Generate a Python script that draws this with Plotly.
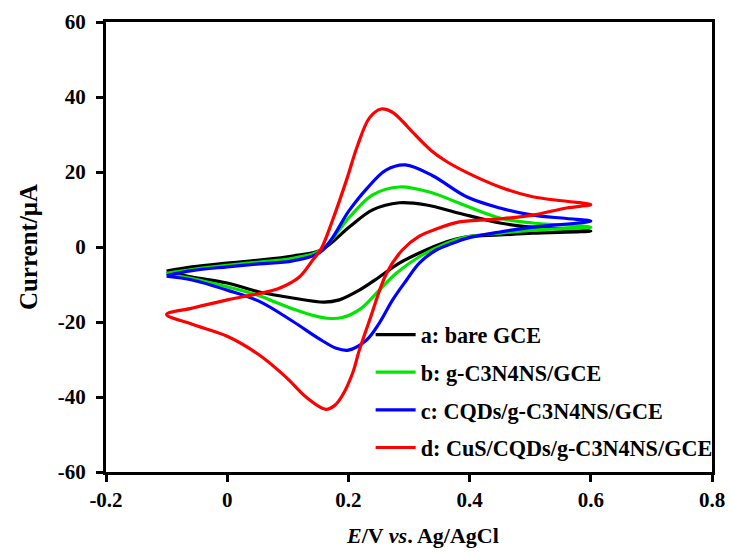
import plotly.graph_objects as go

# ---- data ----
names = ["a: bare GCE", "b: g-C3N4NS/GCE", "c: CQDs/g-C3N4NS/GCE", "d: CuS/CQDs/g-C3N4NS/GCE"]
colors = ["#000000", "#00e600", "#0000ff", "#ff0000"]

# a: bare GCE  (forward scan then reverse scan)
a_x = [-0.1, -0.058, 0.0, 0.053, 0.108, 0.155, 0.202, 0.24, 0.284, 0.329, 0.383, 0.45, 0.504, 0.6,
       0.504, 0.45, 0.395, 0.362, 0.317, 0.284, 0.251, 0.218, 0.185, 0.16, 0.108, 0.053, 0.0, -0.058, -0.1]
a_y = [-6.4, -5.3, -4.3, -3.5, -2.4, -0.8, 5.4, 9.9, 11.8, 11.2, 9.0, 6.4, 5.3, 4.3,
       3.7, 3.2, 2.7, 1.4, -1.6, -4.3, -8.0, -11.5, -14.1, -14.7, -13.6, -12.0, -9.6, -8.0, -6.6]

# b: g-C3N4NS/GCE
b_x = [-0.1, -0.058, 0.0, 0.053, 0.108, 0.155, 0.202, 0.24, 0.284, 0.339, 0.378, 0.45, 0.504, 0.6,
       0.504, 0.45, 0.395, 0.362, 0.317, 0.279, 0.251, 0.22, 0.19, 0.165, 0.136, 0.108, 0.081, 0.053, 0.0, -0.058, -0.1]
b_y = [-7.0, -6.0, -4.9, -4.0, -3.0, -0.8, 8.0, 13.9, 16.0, 14.4, 12.0, 7.7, 6.4, 5.3,
       4.5, 3.7, 2.7, 1.0, -2.6, -7.0, -11.5, -16.5, -18.8, -19.0, -18.0, -16.5, -14.8, -13.0, -10.6, -8.4, -7.2]

# c: CQDs/g-C3N4NS/GCE
c_x = [-0.1, -0.058, 0.0, 0.053, 0.108, 0.155, 0.202, 0.23, 0.262, 0.294, 0.339, 0.395, 0.45, 0.504, 0.56, 0.6,
       0.504, 0.45, 0.395, 0.372, 0.345, 0.317, 0.296, 0.273, 0.251, 0.23, 0.2, 0.18, 0.152, 0.108, 0.053, 0.0, -0.058, -0.1]
c_y = [-7.6, -6.3, -5.3, -4.5, -3.7, -1.2, 9.9, 15.5, 20.5, 21.9, 19.0, 13.4, 10.4, 8.5, 7.6, 6.9,
       5.3, 4.0, 2.3, 1.0, -0.8, -4.3, -8.8, -14.1, -20.3, -24.8, -27.5, -27.0, -24.5, -19.8, -14.5, -11.5, -8.8, -7.8]

# d: CuS/CQDs/g-C3N4NS/GCE
d_x = [-0.1, -0.058, 0.0, 0.053, 0.086, 0.119, 0.141, 0.155, 0.174, 0.197, 0.215, 0.235, 0.254, 0.272, 0.29, 0.306,
       0.336, 0.36, 0.395, 0.45, 0.504, 0.56, 0.6,
       0.56, 0.504, 0.45, 0.383, 0.345, 0.317, 0.289, 0.263, 0.235, 0.218, 0.207, 0.19, 0.177, 0.163, 0.13, 0.097,
       0.053, 0.0, -0.058, -0.1]
d_y = [-18.0, -16.3, -14.1, -12.4, -11.0, -8.0, -3.5, -0.5, 7.2, 17.9, 27.0, 34.5, 36.8, 36.0, 33.4, 30.6,
       25.8, 23.0, 19.9, 16.0, 13.4, 12.2, 11.3,
       10.4, 8.5, 7.5, 6.7, 4.8, 2.9, -0.8, -7.0, -19.5, -27.5, -33.6, -39.6, -42.3, -43.3, -40.0, -34.7,
       -28.8, -23.8, -20.6, -18.0]

x_tickvals = [-0.2, 0.0, 0.2, 0.4, 0.6, 0.8]
x_ticktext = ["-0.2", "0", "0.2", "0.4", "0.6", "0.8"]
y_tickvals = [-60, -40, -20, 0, 20, 40, 60]
y_ticktext = ["-60", "-40", "-20", "0", "20", "40", "60"]

FONT = "Liberation Serif"

fig = go.Figure()
for i, (xs, ys) in enumerate([(a_x, a_y), (b_x, b_y), (c_x, c_y), (d_x, d_y)]):
    fig.add_trace(go.Scatter(
        x=xs, y=ys, mode="lines", name=names[i], legendgroup=names[i],
        line=dict(color=colors[i], width=3.2, shape="spline", smoothing=1.0),
    ))

axis_common = dict(
    showline=True, linewidth=3, linecolor="black", mirror=True,
    ticks="outside", ticklen=7, tickwidth=3, tickcolor="black",
    showgrid=False, zeroline=False, automargin=False,
    tickfont=dict(family=FONT, size=21, color="black", weight="bold"),
)

fig.update_layout(
    width=731, height=552,
    margin=dict(l=106, r=19, t=22, b=80),
    paper_bgcolor="white", plot_bgcolor="white",
    hovermode=False,
    xaxis=dict(range=[-0.2, 0.8], tickvals=x_tickvals, ticktext=x_ticktext,
               ticklabelstandoff=0, **axis_common),
    yaxis=dict(range=[-60, 60], tickvals=y_tickvals, ticktext=y_ticktext,
               ticklabelstandoff=6,
               title=dict(text="Current/μA", standoff=14,
                          font=dict(family=FONT, size=25, color="black", weight="bold")),
               **axis_common),
    legend=dict(x=0.4367, y=0.352, xanchor="left", yanchor="top",
                bgcolor="rgba(0,0,0,0)", borderwidth=0,
                tracegroupgap=5.8, itemwidth=40,
                font=dict(family=FONT, size=22.2, color="black", weight="bold")),
    annotations=[dict(
        text="<i>E</i>/V <i>vs</i>. Ag/AgCl", xref="paper", yref="paper",
        x=(423 - 106) / 606, y=-(535 - 472) / 450, xanchor="center", yanchor="middle",
        showarrow=False, font=dict(family=FONT, size=22, color="black", weight="bold"),
    )],
)

fig.write_html("out.html", config={"displayModeBar": False},
               post_script="document.body.style.margin='0';document.body.style.padding='0';")
